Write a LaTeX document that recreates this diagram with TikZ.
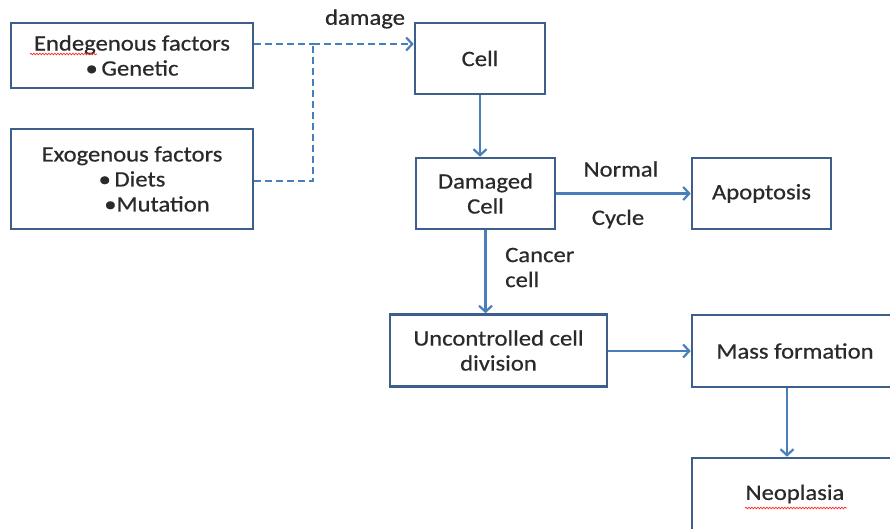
\documentclass[tikz,border=0pt]{standalone}
\usepackage{fontspec}
\setmainfont[FakeStretch=1.12,FakeBold=0.6]{Carlito}
\usetikzlibrary{arrows.meta,decorations.pathmorphing}
\definecolor{boxc}{HTML}{3D5F8C}
\definecolor{arrc}{HTML}{4A7EBB}
\definecolor{txtc}{HTML}{2A2A2A}
\tikzset{
  box/.style={draw=boxc,line width=2.6pt,inner sep=0pt,align=center,text=txtc,font=\fontsize{22}{25}\selectfont},
  lbl/.style={text=txtc,inner sep=0pt,font=\fontsize{22}{25}\selectfont},
  arr/.style={draw=arrc,line width=2.6pt,-{Straight Barb[length=6pt,width=13pt,line width=2.2pt]}},
  dsh/.style={draw=arrc,line width=2.6pt,dash pattern=on 7pt off 4pt},
  spell/.style={draw=red!85,line width=0.7pt,decorate,decoration={snake,amplitude=0.8pt,segment length=3pt}}
}
\begin{document}
\begin{tikzpicture}[x=1pt,y=-1pt]
\useasboundingbox (0,0) rectangle (890,528);
\clip (0,0) rectangle (890,528);
\node[box,minimum width=242pt,minimum height=65pt] (endo) at (132,55.5) {Endegenous factors\\\textbullet\,Genetic};
\node[box,minimum width=242pt,minimum height=100pt] (exo) at (132,179) {Exogenous factors\\\textbullet\,Diets\\\hspace*{50pt}\textbullet Mutation};
\node[box,minimum width=130pt,minimum height=71pt] (cell) at (480,58.5) {Cell};
\node[box,minimum width=139pt,minimum height=71pt] (dmg) at (485.5,193.5) {Damaged\\Cell};
\node[box,minimum width=139pt,minimum height=71pt] (apop) at (761.5,193.5) {Apoptosis};
\node[box,minimum width=217pt,minimum height=72pt] (unc) at (498.5,350.5) {Uncontrolled cell\\division};
\node[box,minimum width=206pt,minimum height=72pt] (mass) at (795,351) {Mass formation};
\node[box,minimum width=206pt,minimum height=72pt] (neo) at (795,494) {Neoplasia};
\coordinate (j) at (313,44);
\coordinate (j2) at (313,181);
\draw[dsh] (endo.east |- j) -- (j);
\draw[dsh] (exo.east |- j2) -- (j2) -- (j);
\draw[arr,dash pattern=on 7pt off 4pt] (j) -- (cell.west |- j);
\draw[arr] (cell.south) -- (cell.south |- dmg.north);
\draw[arr] (dmg.east) -- (apop.west);
\draw[arr] (dmg.south) -- (dmg.south |- unc.north);
\draw[arr] (unc.east |- mass.west) -- (mass.west);
\draw[arr] ([xshift=-8pt]mass.south) -- ([xshift=-8pt]neo.north);
\node[lbl] (ldamage) at (365,19) {damage};
\node[lbl] (lnormal) at (621,169) {Normal};
\node[lbl] (lcycle) at (618,219) {Cycle};
\node[lbl,anchor=west,align=left] (lcancer) at (505,267.5) {Cancer\\cell};
\draw[spell] (30,54) -- (97,54);
\draw[spell] (745,508) -- (847,508);
\end{tikzpicture}
\end{document}
